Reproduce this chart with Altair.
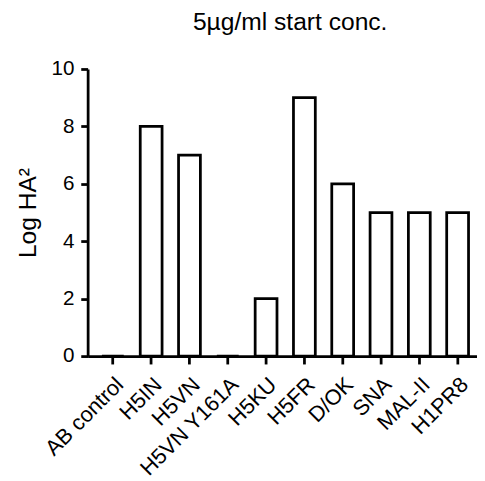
import altair as alt
import pandas as pd

categories = ["AB control", "H5IN", "H5VN", "H5VN Y161A", "H5KU", "H5FR", "D/OK", "SNA", "MAL-II", "H1PR8"]
values = [0, 8, 7, 0, 2, 9, 6, 5, 5, 5]
y_ticks = [0, 2, 4, 6, 8, 10]

df = pd.DataFrame({"cat": categories, "val": values})
FONT = "Liberation Sans"
LW = 2.8

chart = alt.Chart(df).mark_bar(
    fill="white", stroke="black", strokeWidth=LW
).encode(
    x=alt.X("cat:N", sort=categories, title=None,
            scale=alt.Scale(paddingInner=0.43, paddingOuter=0.297, align=0.628),
            axis=alt.Axis(labelAngle=-45, labelFont=FONT, labelFontSize=22, labelColor="black",
                          domainColor="black", domainWidth=LW, tickColor="black", tickWidth=LW,
                          tickSize=8, labelPadding=10, labelOverlap=False)),
    y=alt.Y("val:Q", title="Log HA²",
            scale=alt.Scale(domain=[0, 10], nice=False),
            axis=alt.Axis(values=y_ticks, labelFont=FONT, labelFontSize=21, labelColor="black",
                          titleFont=FONT, titleFontSize=25, titleFontWeight="normal", titleColor="black",
                          domainColor="black", domainWidth=LW, tickColor="black", tickWidth=LW,
                          tickSize=7, labelPadding=7, grid=False, titlePadding=11)),
).properties(
    width=396, height=292,
    title=alt.TitleParams("5µg/ml start conc.", font=FONT, fontSize=25, fontWeight="normal",
                          color="black", anchor="middle", offset=24, dx=8),
    padding={"left": 81, "top": 58, "right": 0, "bottom": 123},
    autosize=alt.AutoSizeParams(type="none"),
).configure_view(stroke=None)

chart.save("out.html", embed_options={"renderer": "svg", "actions": False})
